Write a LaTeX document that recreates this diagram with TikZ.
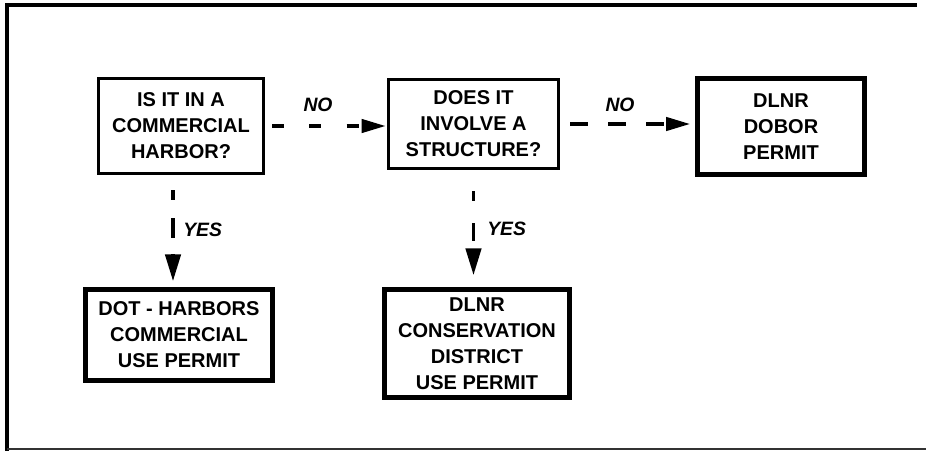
\documentclass[tikz,border=0pt]{standalone}
\usepackage{fontspec}
\setmainfont{Liberation Sans}
\usetikzlibrary{arrows.meta}
\begin{document}
\begin{tikzpicture}[x=0.75pt,y=-0.75pt,
  qbox/.style={draw, line width=2.3pt, inner sep=0pt, align=center,
    font=\fontsize{15}{19.5}\selectfont\bfseries},
  pbox/.style={qbox, line width=3.6pt},
  lbl/.style={inner sep=0pt, font=\fontsize{14.5}{17}\selectfont\bfseries\itshape},
  hconn/.style={line width=2.5pt, -{Triangle[length=18pt,width=10pt]}},
  vconn/.style={line width=2.5pt, -{Triangle[length=20pt,width=11.5pt]}},
  frameline/.style={line width=2.4pt, line cap=rect}
]
\useasboundingbox (0,0) rectangle (926,454);
% frame
\draw[frameline] (915,5) -- (7,5) -- (7,449);
\draw[line width=1.8pt, black!80] (7,449) -- (926,449);

% boxes
\node[qbox, minimum width=123.75pt, minimum height=71.25pt] (q1) at (181,126)
  {IS IT IN A\\COMMERCIAL\\HARBOR?};
\node[qbox, minimum width=127.5pt, minimum height=66.75pt] (q2) at (473.5,124)
  {DOES IT\\INVOLVE A\\STRUCTURE?};
\node[pbox, minimum width=125.25pt, minimum height=72pt] (p3) at (781,126.5)
  {DLNR\\DOBOR\\PERMIT};
\node[pbox, minimum width=140.25pt, minimum height=68.25pt] (p1) at (179,335)
  {DOT - HARBORS\\COMMERCIAL\\USE PERMIT};
\node[pbox, minimum width=138.75pt, minimum height=81pt] (p2) at (477,343.5)
  {DLNR\\CONSERVATION\\DISTRICT\\USE PERMIT};

% connectors
\draw[hconn, dash pattern=on 9pt off 19pt, shorten <=5.25pt, shorten >=1pt]
  (q1.east) -- (q1.east -| q2.west);
\draw[hconn, dash pattern=on 13.5pt off 15pt, shorten <=7.5pt, shorten >=3.75pt]
  (q2.east) -- (q2.east -| p3.west);
\draw[vconn, dash pattern=on 7.5pt off 13.5pt on 15pt off 12pt, shorten <=11.25pt, shorten >=4.5pt]
  ([xshift=-6pt]q1.south) -- ([xshift=-6pt]q1.south |- p1.north);
\draw[vconn, dash pattern=on 7.5pt off 16.5pt on 13.5pt off 10pt, shorten <=16pt, shorten >=9pt]
  (q2.south) -- (q2.south |- p2.north);

% labels
\node[lbl] (no1) at (318,105) {NO};
\node[lbl] (no2) at (620,105) {NO};
\node[lbl, anchor=west] (yes1) at (183,230) {YES};
\node[lbl, anchor=west] (yes2) at (487,229) {YES};
\end{tikzpicture}
\end{document}
